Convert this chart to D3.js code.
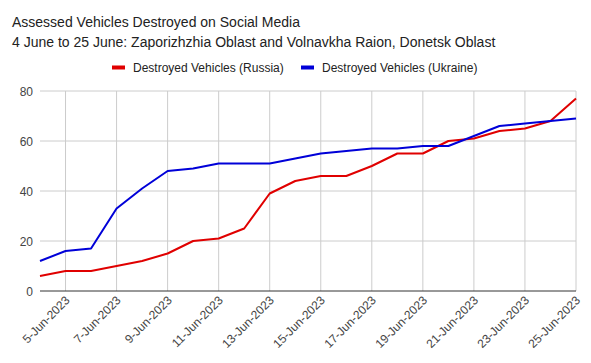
<!DOCTYPE html>
<html>
<head>
<meta charset="utf-8">
<script src="https://cdn.jsdelivr.net/npm/d3@7"></script>
<style>
  body { margin: 0; background: #fff; }
  text { font-family: "Liberation Sans", Arial, sans-serif; }
</style>
</head>
<body>
<script>
// data
var days = d3.range(4, 26); // 4 Jun .. 25 Jun 2023
var russia = [6, 8, 8, 10, 12, 15, 20, 21, 25, 39, 44, 46, 46, 50, 55, 55, 60, 61, 64, 65, 68, 77];
var ukraine = [12, 16, 17, 33, 41, 48, 49, 51, 51, 51, 53, 55, 56, 57, 57, 58, 58, 62, 66, 67, 68, 69];
var tickDays = [5, 7, 9, 11, 13, 15, 17, 19, 21, 23, 25];
var yTicks = [0, 20, 40, 60, 80];
var seriesNames = ["Destroyed Vehicles (Russia)", "Destroyed Vehicles (Ukraine)"];
var colors = ["#e00000", "#0000d8"];

var width = 591, height = 363;
var svg = d3.select("body").append("svg")
    .attr("width", width)
    .attr("height", height);

var x = d3.scaleLinear().domain([4, 25]).range([40, 576]);
var y = d3.scaleLinear().domain([0, 80]).range([291, 91]);

// titles
svg.append("text").attr("x", 12).attr("y", 27)
    .attr("font-size", 14).attr("fill", "#222")
    .text("Assessed Vehicles Destroyed on Social Media");
svg.append("text").attr("x", 12).attr("y", 47)
    .attr("font-size", 14).attr("fill", "#222")
    .text("4 June to 25 June: Zaporizhzhia Oblast and Volnavkha Raion, Donetsk Oblast");

// legend
var legX = [112, 301];
seriesNames.forEach(function(n, i) {
  svg.append("rect").attr("x", legX[i]).attr("y", 65.5)
      .attr("width", 13).attr("height", 4).attr("fill", colors[i]);
  svg.append("text").attr("x", legX[i] + 21).attr("y", 72)
      .attr("font-size", 12).attr("fill", "#222").text(n);
});

// grid
svg.append("g").selectAll("line.h").data(yTicks.slice(1)).enter().append("line")
    .attr("x1", 40).attr("x2", 576)
    .attr("y1", function(d) { return y(d); }).attr("y2", function(d) { return y(d); })
    .attr("stroke", "#ccc").attr("stroke-width", 1);
svg.append("g").selectAll("line.v").data(tickDays).enter().append("line")
    .attr("x1", function(d) { return x(d); }).attr("x2", function(d) { return x(d); })
    .attr("y1", 91).attr("y2", 291)
    .attr("stroke", "#ccc").attr("stroke-width", 1);

// y labels
svg.append("g").selectAll("text").data(yTicks).enter().append("text")
    .attr("x", 33).attr("y", function(d) { return y(d) + 4.5; })
    .attr("text-anchor", "end").attr("font-size", 12).attr("fill", "#444")
    .text(function(d) { return d; });

// x labels, slanted
svg.append("g").selectAll("text").data(tickDays).enter().append("text")
    .attr("text-anchor", "end").attr("font-size", 12).attr("fill", "#444")
    .attr("transform", function(d) { return "translate(" + (x(d) + 5) + ",301) rotate(-45)"; })
    .text(function(d) { return d + "-Jun-2023"; });

// baseline
svg.append("line").attr("x1", 40).attr("x2", 576)
    .attr("y1", y(0)).attr("y2", y(0))
    .attr("stroke", "#333").attr("stroke-width", 1);

// lines
var line = d3.line()
    .x(function(d, i) { return x(days[i]); })
    .y(function(d) { return y(d); });

[russia, ukraine].forEach(function(s, i) {
  svg.append("path").datum(s)
      .attr("d", line)
      .attr("fill", "none")
      .attr("stroke", colors[i])
      .attr("stroke-width", 2)
      .attr("stroke-linejoin", "round");
});
</script>
</body>
</html>
